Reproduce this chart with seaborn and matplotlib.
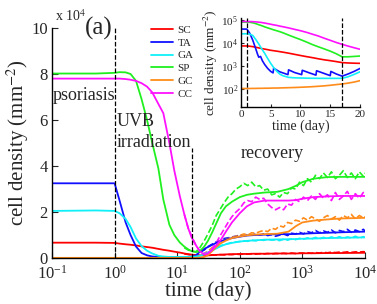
import seaborn as sns
import matplotlib.pyplot as plt
from matplotlib.ticker import LogLocator, LogFormatterMathtext, NullLocator

sns.set_theme(style="ticks")
plt.rcParams['font.family'] = ['Liberation Serif', 'DejaVu Serif']
plt.rcParams['mathtext.fontset'] = 'stix'
plt.rcParams['xtick.direction'] = 'in'
plt.rcParams['ytick.direction'] = 'in'

# ---- main panel data (cell density in units of 10^4 mm^-2) ----
names = ["SC", "TA", "GA", "SP", "GC", "CC"]
colors = ["#ff0000", "#1010ff", "#10f0f8", "#20f020", "#ff8c1a", "#ff10ff"]

t_model = [0.1, 0.5, 1.0, 1.2, 1.5, 1.8, 2.2, 2.7, 3.3, 4, 5, 6, 7.5, 9, 11, 13, 15, 17, 20, 23,
           27, 31, 36, 42, 50, 60, 75, 100, 130, 170, 250, 400, 600, 800, 1000, 1500, 2500, 4000, 10000]
sc_model = [0.67, 0.67, 0.66, 0.63, 0.60, 0.58, 0.55, 0.51, 0.48, 0.45, 0.40, 0.36, 0.32, 0.28, 0.24, 0.2, 0.17, 0.15, 0.13, 0.12,
            0.12, 0.12, 0.13, 0.14, 0.15, 0.16, 0.17, 0.18, 0.18, 0.19, 0.19, 0.2, 0.2, 0.2, 0.21, 0.21, 0.22, 0.22, 0.23]
ta_model = [3.25, 3.25, 3.25, 2.5, 1.55, 1.0, 0.5, 0.22, 0.12, 0.07, 0.05, 0.05, 0.05, 0.05, 0.05, 0.05, 0.05, 0.06, 0.12, 0.28,
            0.4, 0.48, 0.57, 0.66, 0.74, 0.8, 0.87, 0.93, 0.98, 1.0, 1.02, 1.04, 1.04, 1.05, 1.06, 1.08, 1.1, 1.12, 1.15]
ga_model = [2.05, 2.07, 2.05, 1.95, 1.7, 1.35, 0.85, 0.52, 0.32, 0.2, 0.1, 0.07, 0.05, 0.05, 0.05, 0.05, 0.05, 0.05, 0.07, 0.1,
            0.16, 0.23, 0.32, 0.42, 0.52, 0.6, 0.66, 0.72, 0.75, 0.77, 0.8, 0.81, 0.82, 0.83, 0.84, 0.85, 0.87, 0.88, 0.9]
sp_model = [8.02, 8.02, 8.05, 8.08, 8.07, 8.0, 7.7, 6.9, 6.0, 5.0, 3.9, 2.55, 1.45, 1.0, 0.68, 0.5, 0.38, 0.3, 0.26, 0.3,
            0.5, 0.75, 1.1, 1.5, 1.95, 2.25, 2.45, 2.65, 2.75, 2.8, 2.85, 2.88, 3.0, 3.15, 3.3, 3.45, 3.52, 3.53, 3.53]
gc_model = [0.01, 0.01, 0.01, 0.01, 0.01, 0.01, 0.01, 0.01, 0.01, 0.01, 0.01, 0.01, 0.01, 0.01, 0.01, 0.01, 0.01, 0.01, 0.01, 0.02,
            0.05, 0.13, 0.3, 0.48, 0.65, 0.76, 0.87, 0.94, 0.99, 1.02, 1.04, 1.06, 1.15, 1.4, 1.55, 1.63, 1.68, 1.72, 1.75]
cc_model = [7.8, 7.8, 7.8, 7.8, 7.78, 7.75, 7.7, 7.6, 7.45, 7.2, 6.7, 6.3, 5.0, 3.8, 2.7, 1.9, 1.3, 0.9, 0.55, 0.3,
            0.15, 0.2, 0.35, 0.55, 0.8, 1.15, 1.55, 1.95, 2.25, 2.42, 2.5, 2.5, 2.5, 2.52, 2.58, 2.65, 2.68, 2.7, 2.7]

t_sim = [13, 15, 17, 20, 23, 27, 31, 36, 42, 48, 56, 65, 75, 87, 100, 116, 134, 155, 180, 208,
         241, 279, 323, 374, 433, 501, 580, 672, 778, 901, 1043, 1208, 1399, 1620, 1876, 2172, 2516, 2913, 3374, 3907,
         4524, 5239, 6067, 7026, 8136, 9422, 10000]
sc_sim = [0.18, 0.16, 0.14, 0.13, 0.12, 0.13, 0.12, 0.14, 0.13, 0.15, 0.14, 0.16, 0.15, 0.17, 0.16, 0.18, 0.17, 0.19, 0.17, 0.19,
          0.18, 0.2, 0.18, 0.2, 0.19, 0.21, 0.19, 0.22, 0.2, 0.22, 0.21, 0.23, 0.21, 0.24, 0.22, 0.25, 0.23, 0.26, 0.24, 0.26,
          0.25, 0.27, 0.25, 0.27, 0.26, 0.28, 0.27]
ta_sim = [0.05, 0.06, 0.07, 0.12, 0.25, 0.35, 0.5, 0.6, 0.7, 0.75, 0.85, 0.88, 0.92, 0.95, 1.0, 0.98, 1.02, 1.0, 1.05, 1.0,
          1.05, 0.98, 1.02, 0.95, 1.0, 1.05, 0.98, 1.08, 1.05, 1.12, 1.05, 1.15, 1.1, 1.2, 1.1, 1.18, 1.12, 1.22, 1.1, 1.2,
          1.15, 1.25, 1.12, 1.22, 1.15, 1.25, 1.18]
ga_sim = [0.04, 0.05, 0.06, 0.08, 0.12, 0.2, 0.28, 0.38, 0.45, 0.52, 0.6, 0.63, 0.68, 0.7, 0.72, 0.75, 0.73, 0.78, 0.75, 0.8,
          0.77, 0.82, 0.78, 0.8, 0.76, 0.82, 0.78, 0.84, 0.8, 0.86, 0.82, 0.88, 0.83, 0.9, 0.84, 0.9, 0.85, 0.92, 0.86, 0.93,
          0.85, 0.92, 0.87, 0.95, 0.86, 0.93, 0.9]
sp_sim = [0.45, 0.35, 0.3, 0.28, 0.45, 0.75, 1.05, 1.4, 1.85, 2.1, 2.4, 2.65, 2.8, 3.0, 3.1, 3.25, 3.15, 3.3, 3.1, 3.15,
          2.95, 3.0, 2.75, 2.8, 2.65, 2.85, 2.8, 3.05, 3.0, 3.3, 3.15, 3.45, 3.3, 3.6, 3.45, 3.7, 3.5, 3.75, 3.45, 3.6,
          3.8, 3.5, 3.7, 3.45, 3.75, 3.55, 3.7]
gc_sim = [0.02, 0.02, 0.03, 0.05, 0.1, 0.2, 0.3, 0.45, 0.55, 0.7, 0.78, 0.85, 0.9, 0.95, 0.98, 1.05, 1.0, 1.1, 1.08, 1.15,
          1.2, 1.15, 1.3, 1.25, 1.4, 1.35, 1.55, 1.5, 1.65, 1.6, 1.75, 1.65, 1.8, 1.7, 1.6, 1.75, 1.85, 1.7, 1.8, 1.65,
          1.85, 1.75, 1.9, 1.7, 1.85, 1.75, 1.8]
cc_sim = [1.9, 1.3, 0.95, 0.55, 0.3, 0.2, 0.25, 0.4, 0.65, 0.95, 1.25, 1.55, 1.8, 2.0, 2.15, 2.4, 2.5, 2.45, 2.65, 2.55,
          2.6, 2.35, 2.2, 2.1, 2.2, 2.1, 2.35, 2.3, 2.55, 2.45, 2.65, 2.5, 2.7, 2.55, 2.8, 2.6, 2.75, 2.5, 2.85, 2.55,
          2.7, 2.9, 2.55, 2.8, 2.6, 2.85, 2.7]

# ---- inset data (cell density, mm^-2) ----
t_in = [0, 1, 1.5, 2, 2.5, 3, 3.5, 4, 4.5, 5, 5.5, 6, 6.5, 7, 8, 9, 10, 11, 12, 13, 14, 15, 16, 17, 18, 19, 20]
sc_in = [7.4e3, 7.4e3, 7.2e3, 6.9e3, 6.5e3, 6.1e3, 5.7e3, 5.4e3, 5.1e3, 4.8e3, 4.6e3, 4.4e3, 4.2e3, 4.0e3, 3.6e3,
         3.2e3, 2.85e3, 2.55e3, 2.3e3, 2.05e3, 1.85e3, 1.7e3, 1.55e3, 1.4e3, 1.35e3, 1.32e3, 1.3e3]
ga_in = [2.5e4, 2.5e4, 2.4e4, 2.1e4, 1.4e4, 9e3, 5.5e3, 3.5e3, 2.1e3, 1.3e3, 850, 600, 450, 380, 320,
         305, 300, 295, 292, 290, 290, 290, 290, 290, 340, 430, 560]
sp_in = [8e4, 8e4, 7.9e4, 7.5e4, 6.9e4, 6.2e4, 5.6e4, 5.0e4, 4.5e4, 4.1e4, 3.7e4, 3.4e4, 3.1e4, 2.8e4, 2.2e4,
         1.75e4, 1.4e4, 1.1e4, 8.5e3, 6.8e3, 5.5e3, 4.4e3, 3.4e3, 2.5e3, 2.5e3, 2.6e3, 2.7e3]
gc_in = [105, 105, 105, 106, 106, 107, 107, 108, 108, 109, 110, 110, 111, 112, 114,
         116, 119, 122, 126, 131, 137, 145, 155, 165, 180, 200, 230]
cc_in = [8.5e4, 8.5e4, 8.5e4, 8.4e4, 8.2e4, 8.0e4, 7.7e4, 7.3e4, 6.9e4, 6.5e4, 6.1e4, 5.8e4, 5.4e4, 5.1e4, 4.5e4,
         3.9e4, 3.4e4, 2.9e4, 2.4e4, 2.0e4, 1.6e4, 1.3e4, 1.05e4, 8.7e3, 7.3e3, 6.2e3, 5.3e3]
t_ta_in = [0, 1, 1.5, 2, 2.5, 2.8, 3.0, 3.3, 3.6, 4, 4.5, 5, 5.4, 5.5, 6.5, 7.9, 8.0, 9, 10.2, 10.3,
           11.5, 12.6, 12.7, 14, 15.0, 15.1, 16, 17, 18, 19, 20]
ta_in = [4e4, 4e4, 2.6e4, 1.3e4, 5.5e3, 3.2e3, 2.4e3, 2.6e3, 1.7e3, 1.15e3, 780, 580, 500, 800, 560, 420, 680, 520, 420, 650,
         500, 400, 620, 470, 380, 580, 450, 360, 450, 580, 780]

model = [sc_model, ta_model, ga_model, sp_model, gc_model, cc_model]
sim = [sc_sim, ta_sim, ga_sim, sp_sim, gc_sim, cc_sim]

fig = plt.figure(figsize=(3.77, 3.04), dpi=100)
ax = fig.add_axes([0.138, 0.151, 0.830, 0.757])
ax.set_xscale('log')

for y, c in zip(sim, colors):
    sns.lineplot(x=t_sim, y=y, color=c, lw=1.2, ls='--', sort=False, ax=ax)
for y, c, n in zip(model, colors, names):
    sns.lineplot(x=t_model, y=y, color=c, lw=1.3, sort=False, ax=ax, label=n)

ax.axvline(1, color='black', ls='--', lw=0.9)
ax.plot([17, 17], [0, 4.8], color='black', ls='--', lw=0.9)

ax.set_xlim(0.1, 1e4)
ax.set_ylim(0, 10)
ax.set_yticks([0, 2, 4, 6, 8, 10])
ax.set_yticklabels(['0', '2', '4', '6', '8', '10'])
ax.xaxis.set_major_locator(LogLocator(base=10, numticks=10))
ax.xaxis.set_major_formatter(LogFormatterMathtext())
ax.xaxis.set_minor_locator(NullLocator())
ax.tick_params(labelsize=12, length=4, width=0.8, pad=3)
ax.tick_params(axis='x', pad=4.5)
for s in ['top', 'right']:
    ax.spines[s].set_visible(False)
for s in ['left', 'bottom']:
    ax.spines[s].set_linewidth(1.0)
    ax.spines[s].set_color('black')
ax.set_xlabel('time (day)', fontsize=15, labelpad=-1)
ax.set_ylabel('cell density (mm$^{-2}$)', fontsize=15, labelpad=0)

ax.text(0.104, 6.87, 'psoriasis', fontsize=13, va='baseline')
ax.text(1.08, 5.74, 'UVB', fontsize=13, va='baseline')
ax.text(1.08, 4.83, 'irradiation', fontsize=13, va='baseline')
ax.text(104, 4.33, 'recovery', fontsize=13, va='baseline')
fig.text(0.146, 0.947, r'x 10$^4$', fontsize=10, va='center')
fig.text(0.224, 0.905, '(a)', fontsize=18, va='center')

ax.legend(loc='upper left', bbox_to_anchor=(0.400, 0.918), bbox_transform=fig.transFigure,
          frameon=False, fontsize=8, handlelength=2.0, handletextpad=0.4, labelspacing=0.28,
          borderpad=0, borderaxespad=0)

# ---- inset ----
ins = fig.add_axes([0.639, 0.647, 0.316, 0.294])
ins.set_yscale('log')
ins_series = [sc_in, None, ga_in, sp_in, gc_in, cc_in]
for y, c in zip(ins_series, colors):
    if y is None:
        sns.lineplot(x=t_ta_in, y=ta_in, color=c, lw=1.2, sort=False, ax=ins)
    else:
        sns.lineplot(x=t_in, y=y, color=c, lw=1.2, sort=False, ax=ins)
ins.axvline(1, color='black', ls='--', lw=0.9)
ins.axvline(17, color='black', ls='--', lw=0.9)
ins.set_xlim(0, 20)
ins.set_ylim(16, 1.22e5)
ins.set_xticks([0, 5, 10, 15, 20])
ins.yaxis.set_major_locator(LogLocator(base=10, numticks=10))
ins.yaxis.set_minor_locator(NullLocator())
ins.tick_params(labelsize=8, length=2.5, width=0.8, pad=2)
for s in ['top', 'right']:
    ins.spines[s].set_visible(False)
for s in ['left', 'bottom']:
    ins.spines[s].set_linewidth(1.0)
    ins.spines[s].set_color('black')
ins.set_xlabel('time (day)', fontsize=10, labelpad=0)
ins.set_ylabel('cell density (mm$^{-2}$)', fontsize=9.5, labelpad=1)

fig.savefig('out.png', dpi=100)
